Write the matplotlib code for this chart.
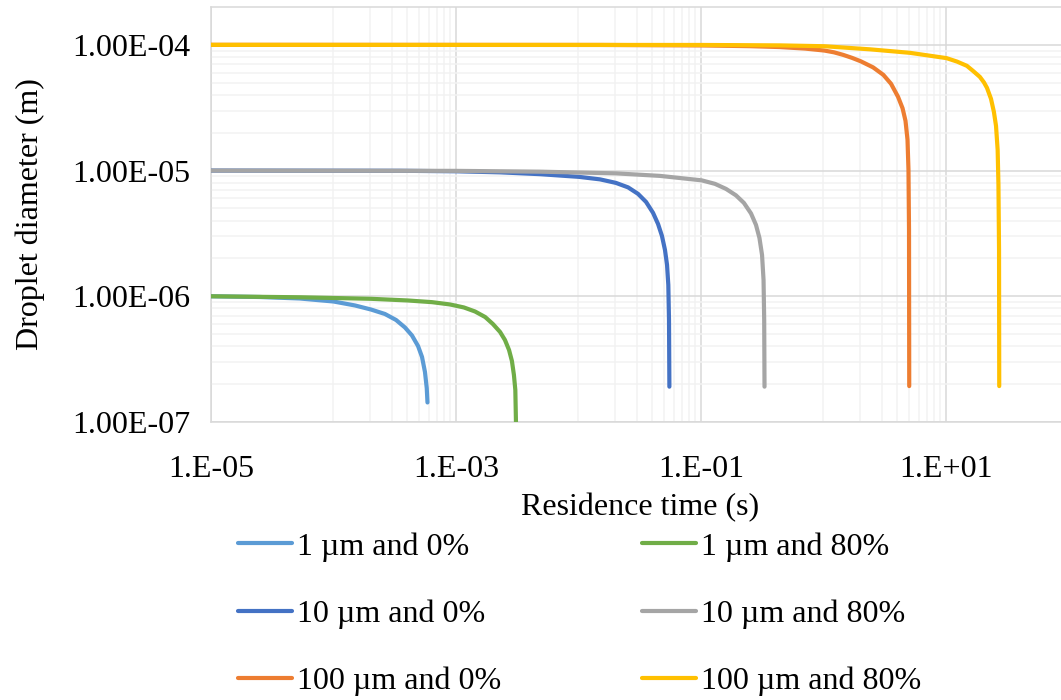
import matplotlib
matplotlib.use("Agg")
import matplotlib.pyplot as plt
from matplotlib.ticker import FixedLocator, FixedFormatter, NullFormatter

# residence time (s) and droplet diameter (m)
t_1um_0 = [1e-5, 2.51e-5, 5.33e-5, 1.0e-4, 1.5e-4, 2.02e-4, 2.63e-4, 3.24e-4, 3.83e-4, 4.37e-4,
           4.9e-4, 5.28e-4, 5.58e-4, 5.77e-4, 5.85e-4]
d_1um_0 = [1.0e-6, 0.987e-6, 0.96e-6, 0.909e-6, 0.845e-6, 0.785e-6, 0.723e-6, 0.648e-6, 0.565e-6, 0.488e-6,
           0.402e-6, 0.329e-6, 0.25e-6, 0.186e-6, 0.143e-6]

t_1um_80 = [1e-5, 5.33e-5, 2.02e-4, 4.05e-4, 6.37e-4, 8.93e-4, 1.16e-3, 1.43e-3, 1.73e-3, 2.0e-3,
            2.29e-3, 2.51e-3, 2.71e-3, 2.86e-3, 2.97e-3, 3.05e-3, 3.09e-3]
d_1um_80 = [1.0e-6, 0.982e-6, 0.955e-6, 0.926e-6, 0.898e-6, 0.861e-6, 0.815e-6, 0.757e-6, 0.684e-6, 0.602e-6,
            0.52e-6, 0.449e-6, 0.374e-6, 0.306e-6, 0.237e-6, 0.18e-6, 0.0946e-6]

t_10um_0 = [1e-5, 3.49e-4, 1e-3, 2.29e-3, 4.85e-3, 1.01e-2, 1.5e-2, 2.02e-2, 2.54e-2, 3.06e-2, 3.56e-2,
            4.06e-2, 4.46e-2, 4.8e-2, 5.08e-2, 5.28e-2, 5.41e-2, 5.48e-2, 5.52e-2]
d_10um_0 = [1.0e-5, 0.996e-5, 0.987e-5, 0.968e-5, 0.936e-5, 0.891e-5, 0.851e-5, 0.798e-5, 0.735e-5, 0.653e-5,
            0.563e-5, 0.461e-5, 0.376e-5, 0.302e-5, 0.234e-5, 0.178e-5, 0.123e-5, 0.0649e-5, 0.0191e-5]

t_10um_80 = [1e-5, 1e-3, 4.85e-3, 2.02e-2, 4.63e-2, 0.1013, 0.13, 0.16, 0.193, 0.224, 0.256, 0.281,
             0.3, 0.315, 0.324, 0.328, 0.33]
d_10um_80 = [1.0e-5, 0.9945e-5, 0.98e-5, 0.95e-5, 0.907e-5, 0.836e-5, 0.784e-5, 0.715e-5, 0.635e-5, 0.553e-5,
             0.456e-5, 0.37e-5, 0.291e-5, 0.213e-5, 0.135e-5, 0.0649e-5, 0.0191e-5]

t_100um_0 = [1e-5, 1.5e-2, 0.1013, 0.251, 0.442, 0.706, 1.015, 1.218, 1.443, 1.709, 2.02, 2.54, 3.08,
             3.56, 4.06, 4.42, 4.67, 4.85, 4.94, 4.99, 5.01]
d_100um_0 = [1.0e-4, 0.998e-4, 0.989e-4, 0.976e-4, 0.96e-4, 0.934e-4, 0.901e-4, 0.872e-4, 0.833e-4, 0.788e-4,
             0.739e-4, 0.662e-4, 0.577e-4, 0.49e-4, 0.386e-4, 0.313e-4, 0.249e-4, 0.176e-4, 0.101e-4,
             0.0338e-4, 0.00193e-4]

t_100um_80 = [1e-5, 0.1013, 0.442, 1.015, 2.4, 5.08, 10.1, 12.3, 14.8, 16.6, 18.9, 20.4, 21.6, 23.3,
              24.6, 25.6, 26.4, 26.8, 27.1, 27.2]
d_100um_80 = [1.0e-4, 0.998e-4, 0.99e-4, 0.975e-4, 0.921e-4, 0.864e-4, 0.784e-4, 0.736e-4, 0.681e-4, 0.621e-4,
              0.556e-4, 0.503e-4, 0.455e-4, 0.372e-4, 0.293e-4, 0.227e-4, 0.146e-4, 0.0771e-4, 0.0234e-4,
              0.00193e-4]

labels = ["1 µm and 0%", "10 µm and 0%", "100 µm and 0%",
          "1 µm and 80%", "10 µm and 80%", "100 µm and 80%"]
colors = ["#5B9BD5", "#4472C4", "#ED7D31", "#70AD47", "#A5A5A5", "#FFC000"]
series = [(t_1um_0, d_1um_0), (t_10um_0, d_10um_0), (t_100um_0, d_100um_0),
          (t_1um_80, d_1um_80), (t_10um_80, d_10um_80), (t_100um_80, d_100um_80)]

x_ticks = [1e-5, 1e-3, 1e-1, 1e1]
x_ticklabels = ["1.E-05", "1.E-03", "1.E-01", "1.E+01"]
y_ticks = [1e-7, 1e-6, 1e-5, 1e-4]
y_ticklabels = ["1.00E-07", "1.00E-06", "1.00E-05", "1.00E-04"]

plt.rcParams["font.family"] = ["Liberation Serif", "DejaVu Serif"]
SIZE = 23
plt.rc("font", size=SIZE)

W, H = 1061, 700
fig = plt.figure(figsize=(W / 100, H / 100), dpi=100)
ax = fig.add_axes([211 / W, 1 - 422 / H, (1068.5 - 211) / W, (422 - 7) / H])

# draw order as in the reference (0% first, then 80%)
order = [0, 3, 1, 4, 2, 5]
handles = [None] * 6
for i in order:
    t, d = series[i]
    (ln,) = ax.plot(t, d, color=colors[i], lw=3, solid_capstyle="round",
                    solid_joinstyle="round", label=labels[i], zorder=3)
    handles[i] = ln

ax.set_xscale("log")
ax.set_yscale("log")
ax.set_xlim(1e-5, 1e2)
ax.set_ylim(1e-7, 2e-4)

x_minor = [k * 10.0 ** n for n in (-4, -2, 0) for k in range(1, 10)]
y_minor = [k * 10.0 ** n for n in (-7, -6, -5) for k in range(2, 10)]
ax.xaxis.set_major_locator(FixedLocator(x_ticks))
ax.xaxis.set_major_formatter(FixedFormatter(x_ticklabels))
ax.xaxis.set_minor_locator(FixedLocator(x_minor))
ax.xaxis.set_minor_formatter(NullFormatter())
ax.yaxis.set_major_locator(FixedLocator(y_ticks))
ax.yaxis.set_major_formatter(FixedFormatter(y_ticklabels))
ax.yaxis.set_minor_locator(FixedLocator(y_minor))
ax.yaxis.set_minor_formatter(NullFormatter())

ax.grid(which="minor", color="#F2F2F2", lw=1.1, zorder=0)
ax.grid(which="major", color="#D9D9D9", lw=1.1, zorder=1)
ax.set_axisbelow(True)
ax.tick_params(which="both", length=0)
ax.tick_params(axis="x", pad=24)
ax.tick_params(axis="y", pad=15)
for s in ax.spines.values():
    s.set_color("#D9D9D9")
    s.set_linewidth(1.1)

fig.text(640 / W, 1 - 508 / H, "Residence time (s)", ha="center", va="center")
fig.text(30 / W, 1 - 214 / H, "Droplet diameter (m)", ha="center", va="center", rotation=90)

fig.legend(handles=handles, labels=labels, ncol=2, loc="upper left",
           bbox_to_anchor=(238 / W, 1 - 532 / H), frameon=False, borderpad=0, borderaxespad=0,
           handlelength=1.7, handletextpad=0.15, columnspacing=4.4, labelspacing=1.18)

fig.savefig("out.png", dpi=100)
